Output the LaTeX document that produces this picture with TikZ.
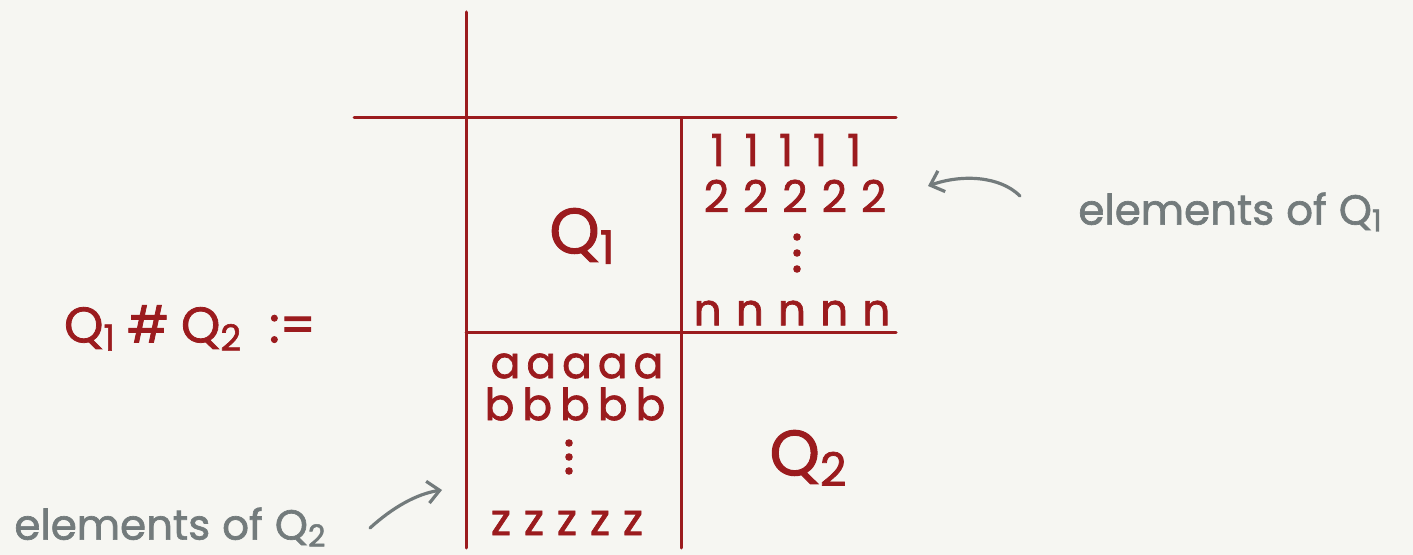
\documentclass[tikz,border=0pt]{standalone}
\usepackage{fontspec}
\setmainfont{Poppins}
\newfontfamily\handfont{Poppins}[FakeBold=1.6]
\usetikzlibrary{arrows.meta}
\definecolor{ink}{HTML}{9B1B1E}
\definecolor{pencil}{HTML}{737B7C}
\definecolor{paper}{HTML}{F6F6F2}
\newcommand\lowsub[1]{\raisebox{-0.3ex}{\scalebox{0.72}{#1}}}
\tikzset{
  grid/.style={draw=ink, line width=1.5pt, line cap=round},
  inktext/.style={text=ink, inner sep=0pt, font=\handfont\fontsize{22}{24}\selectfont},
  bigq/.style={text=ink, inner sep=0pt, font=\handfont\fontsize{32}{34}\selectfont},
  formula/.style={text=ink, inner sep=0pt, font=\handfont\fontsize{25}{27}\selectfont},
  note/.style={text=pencil, inner sep=0pt, font=\handfont\fontsize{21}{23}\selectfont},
  dotmark/.style={fill=ink, draw=none, circle, minimum size=3.8pt, inner sep=0pt},
  pointer/.style={draw=pencil, line width=1.6pt, line cap=round, -{Straight Barb[length=6pt,width=11pt,line width=1.6pt]}}
}
\newcommand\row[6]{#2\hspace{#1}#3\hspace{#1}#4\hspace{#1}#5\hspace{#1}#6}
\begin{document}
\begin{tikzpicture}[x=0.5pt,y=-0.5pt]
\fill[paper] (0,0) rectangle (1413,555);
\useasboundingbox (0,0) rectangle (1413,555);
% grid coordinates
\coordinate (vtop) at (466,12);
\coordinate (vbot) at (466,548);
\coordinate (hleft) at (354,118);
\coordinate (hright) at (896,118);
\coordinate (mtop) at (681,119);
\coordinate (mbot) at (681,548);
\coordinate (mleft) at (466,333);
\coordinate (mright) at (896,333);
\draw[grid] (vtop) -- (vbot);
\draw[grid] (hleft) -- (hright);
\draw[grid] (mtop) -- (mbot);
\draw[grid] (mleft) -- (mright);
% formula
\node[formula] (def) at (190,328) {Q\lowsub{1}\hspace{6pt}\#\hspace{6pt}Q\lowsub{2}\hspace{14pt}:=};
% cell labels
\node[bigq] (q1) at (582,236) {Q\lowsub{1}};
\node[bigq] (q2) at (808,458) {Q\lowsub{2}};
% top right cell
\node[inktext] (r1) at (786,150) {\row{10pt}11111};
\node[inktext] (r2) at (795,196) {\row{7pt}22222};
\node[dotmark] (r3a) at (797,237) {};
\node[dotmark] (r3b) at (797,253) {};
\node[dotmark] (r3c) at (797,269) {};
\node[inktext] (r4) at (792,313) {\row{7pt}nnnnn};
% bottom left cell
\node[inktext] (a1) at (577,366) {\row{3pt}aaaaa};
\node[inktext] (a2) at (575,404) {\row{4pt}bbbbb};
\node[dotmark] (a3a) at (569,443) {};
\node[dotmark] (a3b) at (569,457) {};
\node[dotmark] (a3c) at (569,471) {};
\node[inktext] (a4) at (567,523) {\row{6.5pt}zzzzz};
% notes
\node[note, anchor=west] (n1) at (1078,212) {elements\hspace{6pt}of\hspace{6pt}Q\lowsub{1}};
\node[note, anchor=west] (n2) at (14,527) {elements\hspace{6pt}of\hspace{6pt}Q\lowsub{2}};
\coordinate (p1s) at (1020,196);
\coordinate (p1e) at (928,186);
\coordinate (p2s) at (370,528);
\coordinate (p2e) at (442,490);
\draw[pointer] (p1s) .. controls (1000,176) and (962,174) .. (p1e);
\draw[pointer] (p2s) .. controls (392,508) and (416,494) .. (p2e);
\end{tikzpicture}
\end{document}
